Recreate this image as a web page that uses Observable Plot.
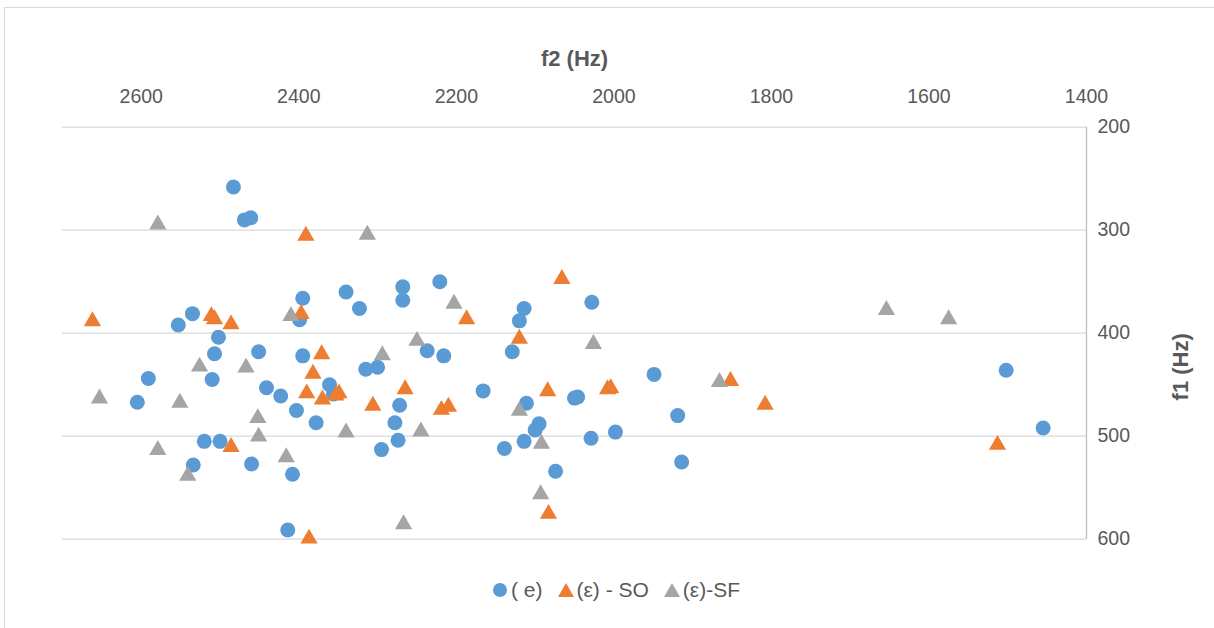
<!DOCTYPE html>
<html>
<head>
<meta charset="utf-8">
<script src="https://cdn.jsdelivr.net/npm/d3@7"></script>
<script src="https://cdn.jsdelivr.net/npm/@observablehq/plot@0.6"></script>
<style>
  html, body { margin: 0; padding: 0; background: #fff; }
  #wrap { position: relative; width: 1214px; height: 628px; overflow: hidden; background: #fff; }
  #frame { position: absolute; left: 4px; top: 7px; width: 1230px; height: 640px; border: 1px solid #D9D9D9; box-sizing: border-box; }
  #chart { position: absolute; left: 0; top: 0; }
  #legend { position: absolute; left: 492px; top: 578px; display: flex; align-items: center;
            font-family: 'Liberation Sans', Arial, sans-serif; font-size: 21px; color: #595959; white-space: nowrap; }
  #legend .item { display: flex; align-items: center; margin-right: 15px; }
  #legend svg { margin-right: 3px; }
</style>
</head>
<body>
<div id="wrap">
  <div id="frame"></div>
  <div id="chart"></div>
  <div id="legend"></div>
</div>
<script>
// Series names
const seriesNames = ["( e)", "(ε) - SO", "(ε)-SF"];
const seriesColors = ["#5B9BD5", "#ED7D31", "#A5A5A5"];

// Axis ticks
const xTicks = [2600, 2400, 2200, 2000, 1800, 1600, 1400];
const yTicks = [200, 300, 400, 500, 600];

// ( e) : [f2, f1]
const eValues = [
  [2483, 258], [2469, 290], [2461, 288], [2395, 366], [2340, 360], [2323, 376],
  [2535, 381], [2553, 392], [2399, 387], [2502, 404], [2507, 420], [2451, 418],
  [2395, 422], [2591, 444], [2510, 445], [2441, 453], [2423, 461], [2361, 450],
  [2356, 459], [2605, 467], [2403, 475], [2378, 487], [2520, 505], [2500, 505],
  [2534, 528], [2460, 527], [2408, 537], [2414, 591], [2315, 435], [2300, 433],
  [2268, 355], [2268, 368], [2221, 350], [2114, 376], [2120, 388], [2237, 417],
  [2216, 422], [2129, 418], [2166, 456], [2272, 470], [2278, 487], [2274, 504],
  [2295, 513], [2111, 468], [2095, 488], [2100, 494], [2114, 505], [2139, 512],
  [2074, 534], [2028, 370], [1949, 440], [2050, 463], [2046, 462], [1919, 480],
  [2029, 502], [1998, 496], [1914, 525], [1502, 436], [1455, 492]
];

// (ε) - SO : [f2, f1]
const soValues = [
  [2391, 303], [2662, 386], [2511, 381], [2507, 384], [2486, 389], [2397, 379],
  [2371, 418], [2382, 437], [2390, 456], [2370, 462], [2353, 458], [2349, 456],
  [2486, 508], [2387, 597], [2187, 384], [2120, 403], [2066, 345], [2265, 452],
  [2084, 454], [2306, 468], [2219, 472], [2210, 469], [2083, 573], [2008, 452],
  [2004, 451], [1852, 444], [1808, 467], [1513, 506]
];

// (ε)-SF : [f2, f1]
const sfValues = [
  [2579, 292], [2313, 302], [2410, 381], [2526, 430], [2467, 431], [2653, 461],
  [2551, 465], [2452, 480], [2451, 498], [2340, 494], [2579, 511], [2416, 518],
  [2541, 536], [2203, 369], [2250, 405], [2294, 419], [2245, 493], [2120, 473],
  [2092, 505], [2093, 554], [2267, 583], [2026, 408], [1866, 445], [1654, 375],
  [1575, 384]
];

const toRows = (arr) => arr.map(([f2, f1]) => ({f2, f1}));
const eData = toRows(eValues);
const soData = toRows(soValues);
const sfData = toRows(sfValues);

const chart = Plot.plot({
  width: 1214,
  height: 566,
  marginLeft: 62,
  marginRight: 128,
  marginTop: 126.7,
  marginBottom: 27.3,
  x: {domain: [2700, 1400]},
  y: {domain: [200, 600], reverse: true},
  style: {
    fontFamily: "'Liberation Sans', Arial, sans-serif",
    fontSize: "19.5px",
    color: "#595959",
    background: "transparent",
    overflow: "visible"
  },
  marks: [
    Plot.gridY(yTicks, {stroke: "#D9D9D9", strokeOpacity: 1, strokeWidth: 1.3}),
    Plot.ruleX([1400], {stroke: "#BFBFBF", strokeWidth: 1.3}),
    Plot.axisX(xTicks, {anchor: "top", tickSize: 0, tickPadding: 24, tickFormat: d => String(d), label: null, fill: "#595959"}),
    Plot.axisY(yTicks, {anchor: "right", tickSize: 0, tickPadding: 11, tickFormat: d => String(d), label: null, fill: "#595959"}),
    Plot.text(["f2 (Hz)"], {text: d => d, frameAnchor: "top", lineAnchor: "middle", dy: -68, fontWeight: "bold", fontSize: 22, fill: "#595959"}),
    Plot.text(["f1 (Hz)"], {text: d => d, frameAnchor: "right", lineAnchor: "middle", dx: 94, rotate: -90, fontWeight: "bold", fontSize: 22, fill: "#595959"}),
    Plot.dot(eData, {x: "f2", y: "f1", r: 7.5, fill: seriesColors[0]}),
    Plot.dot(soData, {x: "f2", y: "f1", symbol: "triangle", r: 6.4, dy: 2.5, fill: seriesColors[1]}),
    Plot.dot(sfData, {x: "f2", y: "f1", symbol: "triangle", r: 6.4, dy: 2.5, fill: seriesColors[2]})
  ]
});
document.getElementById("chart").appendChild(chart);

// Legend
const legend = document.getElementById("legend");
seriesNames.forEach((name, i) => {
  const item = document.createElement("div");
  item.className = "item";
  const shape = i === 0
    ? `<circle cx="8" cy="8" r="7" fill="${seriesColors[i]}"/>`
    : `<path d="M8,1 L16,15 L0,15 Z" fill="${seriesColors[i]}"/>`;
  item.innerHTML = `<svg width="16" height="16" viewBox="0 0 16 16">${shape}</svg><span>${name}</span>`;
  legend.appendChild(item);
});
</script>
</body>
</html>
